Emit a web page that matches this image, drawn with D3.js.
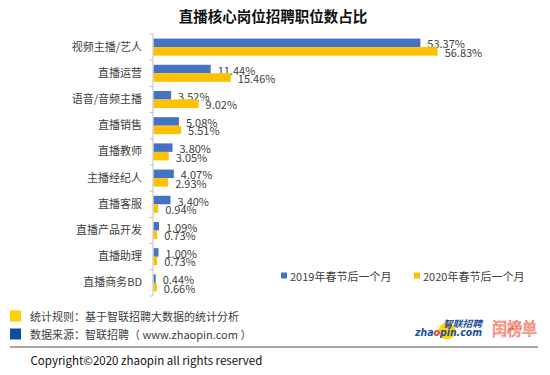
<!DOCTYPE html>
<html><head><meta charset="utf-8">
<script src="https://cdn.jsdelivr.net/npm/d3@7"></script>
<style>
html,body{margin:0;padding:0;background:#fff;}
svg{display:block;font-family:"Noto Sans CJK SC","Noto Sans",sans-serif;}
</style></head>
<body><svg id="c" width="550" height="375"></svg>
<script>
const categories = ["视频主播/艺人","直播运营","语音/音频主播","直播销售","直播教师","主播经纪人","直播客服","直播产品开发","直播助理","直播商务BD"];
const values2019 = [53.37,11.44,3.52,5.08,3.80,4.07,3.40,1.09,1.00,0.44];
const values2020 = [56.83,15.46,9.02,5.51,3.05,2.93,0.94,0.73,0.73,0.66];
const seriesNames = ["2019年春节后一个月","2020年春节后一个月"];
const seriesColors = ["#4472C4","#FFC000"];
const title = "直播核心岗位招聘职位数占比";
const notes = ["统计规则：基于智联招聘大数据的统计分析","数据来源：智联招聘（ www.zhaopin.com ）"];
const noteColors = ["#FFD000","#0B4EA2"];
const copyright = "Copyright©2020 zhaopin all rights reserved";

const svg = d3.select("#c");
const x = d3.scaleLinear().domain([0,60]).range([153.5,453.5]);
const y = d3.scaleBand().domain(categories).range([34,296]).paddingInner(0.35).paddingOuter(0.175);
const sub = d3.scaleBand().domain([0,1]).range([0,y.bandwidth()]);

svg.append("text").attr("x",273).attr("y",15.5).attr("text-anchor","middle")
  .attr("dominant-baseline","central").attr("font-size",14.5).attr("font-weight","bold")
  .attr("fill","#111").text(title);

// bars
const data = categories.map((c,i)=>({c, v:[values2019[i],values2020[i]]}));
const g = svg.append("g");
data.forEach(d=>{
  d.v.forEach((v,s)=>{
    const yy = y(d.c)+sub(s);
    g.append("rect").attr("x",x(0)).attr("y",yy).attr("width",x(v)-x(0)).attr("height",sub.bandwidth())
      .attr("fill",seriesColors[s]);
    g.append("text").attr("x",x(v)+7).attr("y",yy+sub.bandwidth()/2+0.5)
      .attr("dominant-baseline","central").attr("font-size",11).attr("fill","#404040")
      .text(v.toFixed(2)+"%");
  });
});

// axis
const ax = svg.append("g").attr("transform",`translate(${x(0)-0.5},0)`)
  .call(d3.axisLeft(y).tickSize(0).tickPadding(11));
ax.select(".domain").remove();
ax.selectAll("text").attr("font-size",11).attr("fill","#404040").attr("font-family","Noto Sans CJK SC");
const r = y.range();
const bounds = d3.range(categories.length+1).map(i=>r[0]+i*y.step());
svg.append("line").attr("x1",x(0)-0.5).attr("x2",x(0)-0.5).attr("y1",r[0]).attr("y2",r[1])
  .attr("stroke","#BFBFBF").attr("stroke-width",1);
bounds.forEach(b=>svg.append("line").attr("x1",x(0)-4).attr("x2",x(0)-0.5).attr("y1",b).attr("y2",b)
  .attr("stroke","#BFBFBF"));

// legend
const legX = [281,414];
seriesNames.forEach((n,i)=>{
  svg.append("rect").attr("x",legX[i]).attr("y",272.5).attr("width",6).attr("height",6).attr("fill",seriesColors[i]);
  svg.append("text").attr("x",legX[i]+9).attr("y",275.5).attr("dominant-baseline","central")
    .attr("font-size",11).attr("fill","#404040").text(n);
});

// footer notes
notes.forEach((n,i)=>{
  const cy = 316 + i*18;
  svg.append("rect").attr("x",10).attr("y",cy-5.5).attr("width",11).attr("height",11).attr("fill",noteColors[i]);
  svg.append("text").attr("x",30).attr("y",cy).attr("dominant-baseline","central")
    .attr("font-size",11).attr("fill","#404040").text(n);
});
svg.append("line").attr("x1",10).attr("x2",538).attr("y1",347).attr("y2",347)
  .attr("stroke","#A6A6A6").attr("stroke-width",2);
svg.append("text").attr("x",30.5).attr("y",360).attr("dominant-baseline","central")
  .attr("font-size",11.5).attr("fill","#111").text(copyright);

// logos
svg.append("circle").attr("cx",447).attr("cy",331).attr("r",8.5).attr("fill","#FFD400");
const zt = svg.append("text").attr("x",415).attr("y",336).attr("font-size",11).attr("font-weight","bold")
  .attr("font-style","italic").attr("fill","#1B4FA0").attr("font-family","DejaVu Sans").attr("textLength",67).attr("lengthAdjust","spacingAndGlyphs");
zt.append("tspan").text("zha");
zt.append("tspan").attr("fill","#E4332B").text("o");
zt.append("tspan").text("pin.com");
svg.append("text").attr("x",443).attr("y",327).attr("font-size",9).attr("font-weight","bold")
  .attr("font-style","italic").attr("fill","#1B4FA0").attr("textLength",39).attr("lengthAdjust","spacingAndGlyphs").text("智联招聘");
svg.append("text").attr("x",492).attr("y",335).attr("font-size",17)
  .attr("fill","#fff").attr("stroke","#EE5B47").attr("stroke-width",0.7)
  .attr("textLength",45).attr("lengthAdjust","spacingAndGlyphs").text("闰榜单");
</script></body></html>
